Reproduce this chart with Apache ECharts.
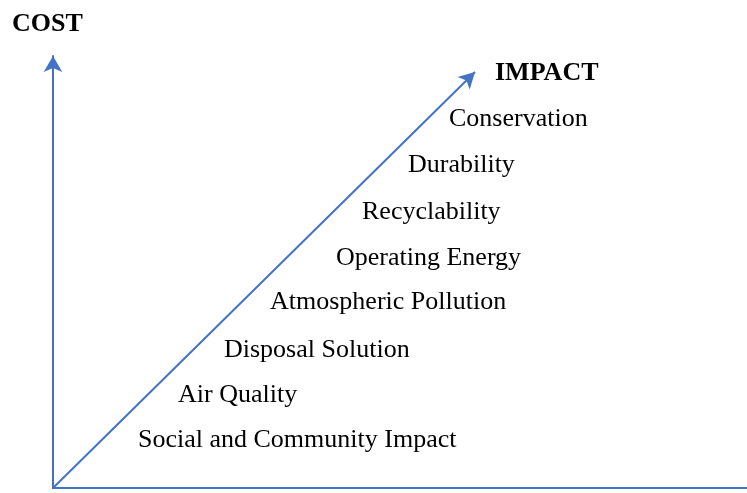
<!DOCTYPE html>
<html>
<head>
<meta charset="utf-8">
<script src="https://cdn.jsdelivr.net/npm/echarts@6/dist/echarts.min.js"></script>
<style>html,body{margin:0;padding:0;background:#fff;}#c{width:747px;height:493px;}</style>
</head>
<body>
<div id="c"></div>
<script>
// Impact factors listed along the diagonal, from bottom to top
var factors = ['Social and Community Impact', 'Air Quality', 'Disposal Solution', 'Atmospheric Pollution',
  'Operating Energy', 'Recyclability', 'Durability', 'Conservation'];
// position of each factor label (left edge x, middle y) in axis units
var factorX = [85, 125, 171, 217, 283, 309, 355, 396];
var factorY = [48, 93, 138, 186, 230, 276, 323, 369];
// diagonal IMPACT arrow end point and its title position
var impactEnd = [422, 416];
var impactTitle = ['IMPACT', 442, 415];
var costTitle = 'COST';

var blue = '#4472C4';
var font = "'Liberation Serif', 'Times New Roman', serif";

var chart = echarts.init(document.getElementById('c'));
var labelData = factors.map(function (n, i) { return { name: n, value: [factorX[i], factorY[i]] }; });
chart.setOption({
  animation: false,
  textStyle: { fontFamily: font },
  title: {
    text: costTitle, left: 12, top: 11, padding: 0,
    textStyle: { fontFamily: font, fontWeight: 'bold', fontSize: 26, color: '#000', lineHeight: 26 }
  },
  grid: { left: 53, width: 714, top: 56, bottom: 5, outerBoundsMode: 'none', containLabel: false },
  xAxis: {
    type: 'value', min: 0, max: 714,
    splitLine: { show: false }, axisTick: { show: false }, axisLabel: { show: false },
    axisLine: { show: true, lineStyle: { color: blue, width: 2 }, symbol: ['none', 'arrow'], symbolSize: [14, 16] }
  },
  yAxis: {
    type: 'value', min: 0, max: 432,
    splitLine: { show: false }, axisTick: { show: false }, axisLabel: { show: false },
    axisLine: { show: true, lineStyle: { color: blue, width: 2 }, symbol: ['none', 'arrow'], symbolSize: [14, 16] }
  },
  series: [{
    type: 'scatter',
    symbolSize: 0,
    itemStyle: { opacity: 1 },
    data: labelData.concat([{ name: impactTitle[0], value: [impactTitle[1], impactTitle[2]],
      label: { fontWeight: 'bold' } }]),
    label: {
      show: true, position: 'right', distance: 0, formatter: '{b}',
      fontFamily: font, fontSize: 26, color: '#000'
    },
    markLine: {
      silent: true,
      symbol: ['none', 'arrow'], symbolSize: [13, 16],
      label: { show: false },
      lineStyle: { color: blue, width: 2, type: 'solid', opacity: 1 },
      data: [[{ coord: [0, 0] }, { coord: impactEnd }]]
    }
  }]
});
</script>
</body>
</html>
